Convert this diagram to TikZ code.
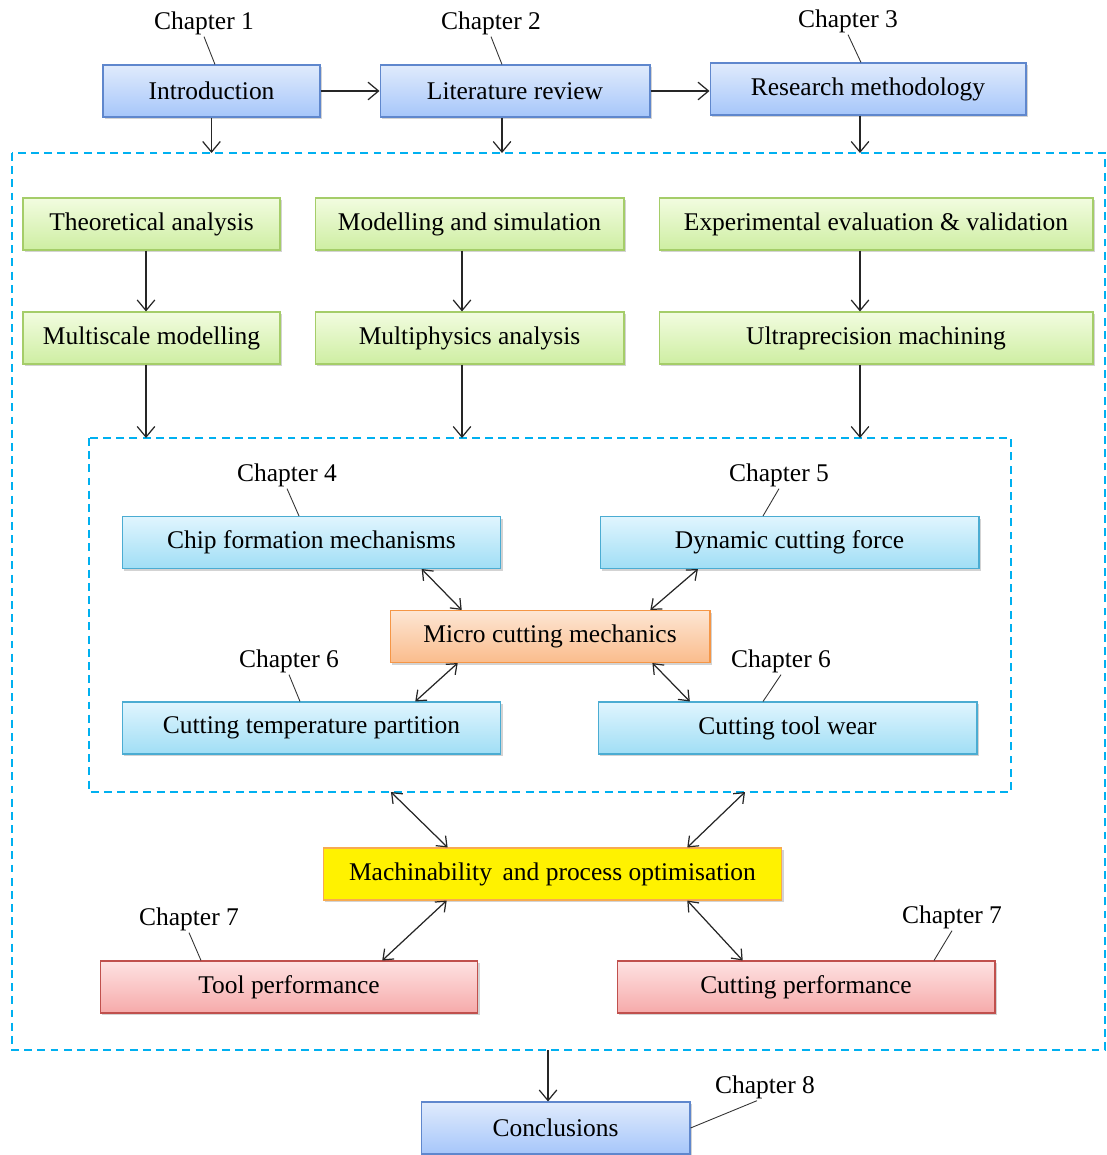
\documentclass[tikz,border=0pt]{standalone}
\usepackage{fontspec}
\setmainfont{Liberation Serif}
\usetikzlibrary{arrows.meta,shadows,calc}

\definecolor{blueTop}{RGB}{224,235,252}
\definecolor{blueBot}{RGB}{166,198,250}
\definecolor{blueLine}{RGB}{95,135,205}
\definecolor{greenTop}{RGB}{242,252,224}
\definecolor{greenBot}{RGB}{206,238,162}
\definecolor{greenLine}{RGB}{165,205,105}
\definecolor{cyanTop}{RGB}{224,245,254}
\definecolor{cyanBot}{RGB}{160,222,245}
\definecolor{cyanLine}{RGB}{75,172,210}
\definecolor{orangeTop}{RGB}{253,230,212}
\definecolor{orangeBot}{RGB}{250,188,140}
\definecolor{orangeLine}{RGB}{245,150,70}
\definecolor{yellowLine}{RGB}{247,170,80}
\definecolor{redTop}{RGB}{254,226,226}
\definecolor{redBot}{RGB}{246,170,170}
\definecolor{redLine}{RGB}{192,80,77}
\definecolor{frameBlue}{RGB}{0,176,240}

\tikzset{
  box/.style={draw, line width=0.6pt, minimum height=1.04cm, inner sep=0pt,
    drop shadow={opacity=0.35, shadow xshift=1.2pt, shadow yshift=-1.4pt},
    font=\fontsize{14.5}{17}\selectfont},
  bluebox/.style={box, draw=blueLine, top color=blueTop, bottom color=blueBot},
  greenbox/.style={box, draw=greenLine, top color=greenTop, bottom color=greenBot},
  cyanbox/.style={box, draw=cyanLine, top color=cyanTop, bottom color=cyanBot},
  orangebox/.style={box, draw=orangeLine, top color=orangeTop, bottom color=orangeBot},
  yellowbox/.style={box, draw=yellowLine, fill=yellow},
  redbox/.style={box, draw=redLine, top color=redTop, bottom color=redBot},
  chap/.style={font=\fontsize{14.5}{17}\selectfont, inner sep=1pt},
  callout/.style={draw=black!80, line width=0.5pt},
  arr/.style={-{Straight Barb[length=6pt,width=10pt]}, line width=0.7pt, black!85},
  dblarr/.style={{Straight Barb[length=5pt,width=8pt]}-{Straight Barb[length=5pt,width=8pt]}, line width=0.7pt, black!85},
  dashbox/.style={draw=frameBlue, line width=1.6pt, dash pattern=on 4.5pt off 3pt},
}

\begin{document}
\begin{tikzpicture}[x=0.02cm, y=-0.02cm]
\useasboundingbox (0,0) rectangle (1106,1155);

% --- top row ---
\node[bluebox, minimum width=4.34cm] (intro) at (211.5,91) {Introduction};
\node[bluebox, minimum width=5.4cm] (litrev) at (515,91) {Literature review};
\node[bluebox, minimum width=6.32cm] (method) at (868,89) {Research methodology};

\node[chap] (ch1) at (204,23) {Chapter 1};
\node[chap] (ch2) at (491,23) {Chapter 2};
\node[chap] (ch3) at (848,21) {Chapter 3};
\draw[callout] (ch1.south) -- ([xshift=0.07cm]intro.north);
\draw[callout] (ch2.south) -- ([xshift=-0.26cm]litrev.north);
\draw[callout] (ch3.south) -- ([xshift=-0.14cm]method.north);

\draw[arr] (intro.east) -- (litrev.west);
\draw[arr] (litrev.east) -- (litrev.east -| method.west);

% outer frame
\coordinate (outerNW) at (12,153);
\coordinate (outerSE) at (1105,1050);
\draw[dashbox] (outerNW) rectangle (outerSE);

\coordinate (introOut) at (intro.south);
\coordinate (litrevOut) at ([xshift=-0.26cm]litrev.south);
\coordinate (methodOut) at ([xshift=-0.16cm]method.south);
\draw[arr] (introOut) -- (introOut |- outerNW);
\draw[arr] (litrevOut) -- (litrevOut |- outerNW);
\draw[arr] (methodOut) -- (methodOut |- outerNW);

% --- approaches ---
\node[greenbox, minimum width=5.14cm] (theory) at (151.5,224) {Theoretical analysis};
\node[greenbox, minimum width=6.18cm] (modsim) at (469.5,224) {Modelling and simulation};
\node[greenbox, minimum width=8.68cm] (expval) at (876,224) {Experimental evaluation \& validation};
\node[greenbox, minimum width=5.14cm] (multiscale) at (151.5,338) {Multiscale modelling};
\node[greenbox, minimum width=6.18cm] (multiphys) at (469.5,338) {Multiphysics analysis};
\node[greenbox, minimum width=8.68cm] (ultraprec) at (876,338) {Ultraprecision machining};

\draw[arr] ([xshift=-0.11cm]theory.south) -- ([xshift=-0.11cm]multiscale.north);
\draw[arr] ([xshift=-0.15cm]modsim.south) -- ([xshift=-0.15cm]multiphys.north);
\draw[arr] ([xshift=-0.32cm]expval.south) -- ([xshift=-0.32cm]ultraprec.north);

% inner frame
\coordinate (innerNW) at (89,438);
\coordinate (innerSW) at (89,792);
\coordinate (innerSE) at (1011,792);
\draw[dashbox] (innerNW) rectangle (innerSE);

\coordinate (multiscaleOut) at ([xshift=-0.11cm]multiscale.south);
\coordinate (multiphysOut) at ([xshift=-0.15cm]multiphys.south);
\coordinate (ultraprecOut) at ([xshift=-0.32cm]ultraprec.south);
\draw[arr] (multiscaleOut) -- (multiscaleOut |- innerNW);
\draw[arr] (multiphysOut) -- (multiphysOut |- innerNW);
\draw[arr] (ultraprecOut) -- (ultraprecOut |- innerNW);

% --- micro cutting mechanics ---
\node[cyanbox, minimum width=7.58cm] (chip) at (311.5,542.5) {Chip formation mechanisms};
\node[cyanbox, minimum width=7.58cm] (dynforce) at (789.5,542.5) {Dynamic cutting force};
\node[orangebox, minimum width=6.4cm] (micro) at (550,636.5) {Micro cutting mechanics};
\node[cyanbox, minimum width=7.58cm] (temp) at (311.5,728) {Cutting temperature partition};
\node[cyanbox, minimum width=7.58cm] (wear) at (787.5,728) {Cutting tool wear};

\node[chap] (ch4) at (287,475) {Chapter 4};
\node[chap] (ch5) at (779,475) {Chapter 5};
\node[chap] (ch6a) at (289,661) {Chapter 6};
\node[chap] (ch6b) at (781,661) {Chapter 6};
\draw[callout] (ch4.south) -- ([xshift=-0.25cm]chip.north);
\draw[callout] (ch5.south) -- ([xshift=-0.53cm]dynforce.north);
\draw[callout] (ch6a.south) -- ([xshift=-0.23cm]temp.north);
\draw[callout] (ch6b.south) -- ([xshift=-0.49cm]wear.north);

\draw[dblarr] ($(chip.south west)!0.79!(chip.south east)$) -- ($(micro.north west)!0.225!(micro.north east)$);
\draw[dblarr] ($(dynforce.south west)!0.259!(dynforce.south east)$) -- ($(micro.north west)!0.8125!(micro.north east)$);
\draw[dblarr] ($(micro.south west)!0.2125!(micro.south east)$) -- ($(temp.north west)!0.773!(temp.north east)$);
\draw[dblarr] ($(micro.south west)!0.819!(micro.south east)$) -- ($(wear.north west)!0.243!(wear.north east)$);

% --- machinability ---
\node[yellowbox, minimum width=9.18cm] (machin) at (552.5,874) {Machinability\, and process optimisation};
\node[redbox, minimum width=7.56cm] (toolperf) at (289,987) {Tool performance};
\node[redbox, minimum width=7.56cm] (cutperf) at (806,987) {Cutting performance};

\node[chap] (ch7a) at (189,919) {Chapter 7};
\node[chap] (ch7b) at (952,917) {Chapter 7};
\draw[callout] (ch7a.south) -- ([xshift=-1.76cm]toolperf.north);
\draw[callout] (ch7b.south) -- ([xshift=2.56cm]cutperf.north);

\draw[dblarr] ($(innerSW)!0.3275!(innerSE)$) -- ($(machin.north west)!0.272!(machin.north east)$);
\draw[dblarr] ($(innerSW)!0.7115!(innerSE)$) -- ($(machin.north west)!0.793!(machin.north east)$);
\draw[dblarr] ($(machin.south west)!0.27!(machin.south east)$) -- ($(toolperf.north west)!0.746!(toolperf.north east)$);
\draw[dblarr] ($(machin.south west)!0.793!(machin.south east)$) -- ($(cutperf.north west)!0.333!(cutperf.north east)$);

% --- conclusions ---
\node[bluebox, minimum width=5.38cm] (concl) at (555.5,1128) {Conclusions};
\node[chap] (ch8) at (765,1087) {Chapter 8};
\draw[callout] ([xshift=-0.16cm]ch8.south) -- (concl.east);

\coordinate (conclIn) at ([xshift=-0.15cm]concl.north);
\draw[arr] (conclIn |- outerSE) -- (conclIn);
\end{tikzpicture}
\end{document}
